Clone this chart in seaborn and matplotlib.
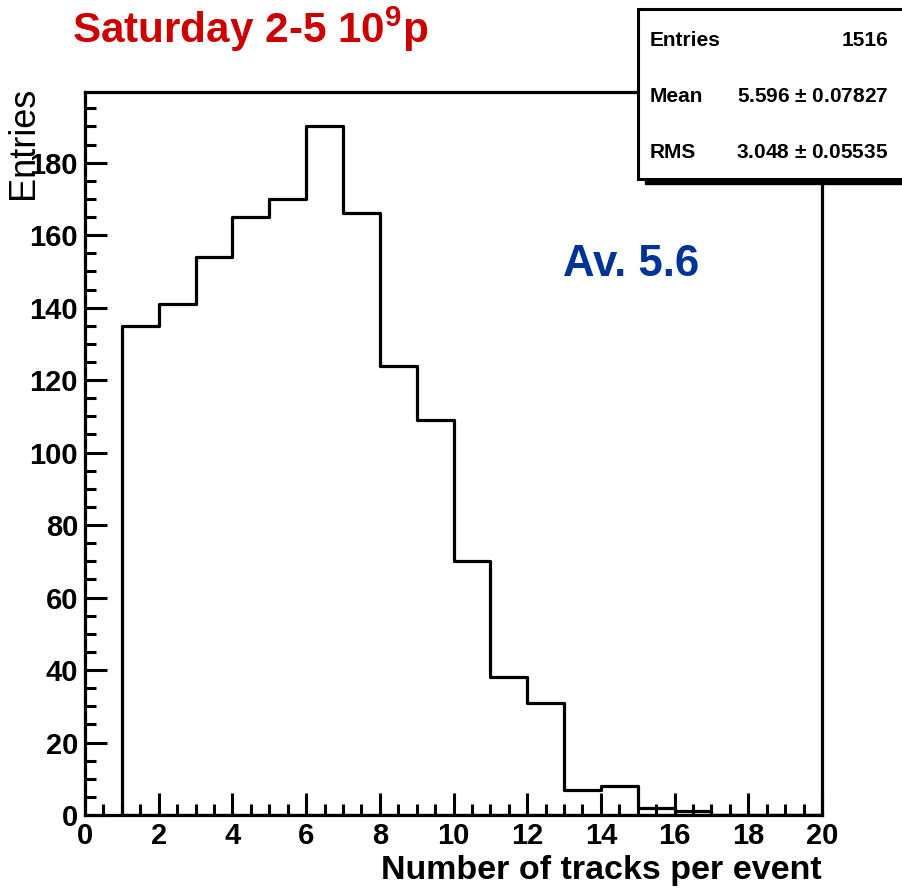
import numpy as np
import matplotlib
matplotlib.use("Agg")
import matplotlib.pyplot as plt
from matplotlib.patches import Rectangle
import seaborn as sns

# Track multiplicity histogram: unit-width bins from 1 to 20
bin_edges = list(range(1, 21))
counts = [135, 141, 154, 165, 170, 190, 166, 124, 109, 70,
          38, 31, 7, 8, 2, 1, 0, 0, 0]

title_text = "Saturday 2-5 10$^{9}$p"
note_text = "Av. 5.6"
x_label = "Number of tracks per event"
y_label = "Entries"
stats_names = ["Entries", "Mean", "RMS"]
stats_values = ["1516", "5.596 $\\pm$ 0.07827", "3.048 $\\pm$ 0.05535"]
x_ticks = list(range(0, 21, 2))
y_ticks = list(range(0, 181, 20))

sns.set_theme(style="white")
plt.rcParams["font.family"] = ["Liberation Sans", "DejaVu Sans"]
plt.rcParams["mathtext.fontset"] = "custom"
plt.rcParams["mathtext.rm"] = "Liberation Sans:bold"
plt.rcParams["mathtext.it"] = "Liberation Sans:bold"
plt.rcParams["mathtext.bf"] = "Liberation Sans:bold"
for key in ["text.color", "axes.labelcolor", "xtick.color", "ytick.color",
            "axes.edgecolor"]:
    plt.rcParams[key] = "black"

W, H = 902, 889
fig = plt.figure(figsize=(W / 100, H / 100), dpi=100)
ax = fig.add_axes([85 / W, 1 - 815 / H, (822 - 85) / W, (815 - 92) / H])

centers = [e + 0.5 for e in bin_edges[:-1]]
sns.histplot(x=centers, weights=counts, bins=bin_edges, element="step",
             fill=True, color="black", linewidth=2.3, ax=ax)
# Outline only, as in a classic step histogram
for coll in ax.collections:
    coll.set_facecolor("none")
    coll.set_edgecolor("black")
    coll.set_alpha(1.0)
    coll.set_linewidth(2.3)

ax.set_xlim(0, 20)
ax.set_ylim(0, 199.5)
ax.set_xticks(x_ticks)
ax.set_yticks(y_ticks)
ax.set_xticks(np.arange(0, 20.01, 0.5), minor=True)
ax.set_yticks(np.arange(0, 199.5, 5), minor=True)
ax.tick_params(which="major", direction="in", length=16, width=2.2,
               labelsize=21, pad=5, color="black", labelcolor="black")
ax.tick_params(which="minor", direction="in", length=8, width=2.2,
               color="black")
ax.tick_params(axis="x", which="both", bottom=True, top=False)
ax.tick_params(axis="y", which="both", left=True, right=False)
for lbl in ax.get_xticklabels() + ax.get_yticklabels():
    lbl.set_fontweight("bold")
for sp in ax.spines.values():
    sp.set_visible(True)
    sp.set_color("black")
    sp.set_linewidth(2.3)

ax.set_xlabel("")
ax.set_ylabel("")

# Axis titles placed in figure pixel coordinates
fig.text(822 / W, 1 - 870 / H, x_label, ha="right", va="center",
         fontsize=24.5, fontweight="bold", color="black")
fig.text(23 / W, 1 - 87 / H, y_label, ha="center", va="top",
         rotation=90, fontsize=26, color="black")

# Title and annotation
fig.text(72 / W, 1 - 29 / H, title_text, ha="left", va="center",
         fontsize=30.4, fontweight="bold", color="#CC0000")
fig.text(563 / W, 1 - 264 / H, note_text, ha="left", va="center",
         fontsize=31.5, fontweight="bold", color="#003399")

# Statistics box with drop shadow
bx0, by0, bx1, by1 = 638, 9, 905, 179
shadow = Rectangle(((bx0 + 7) / W, 1 - (by1 + 5) / H),
                   (bx1 - bx0) / W, (by1 - by0) / H,
                   transform=fig.transFigure, facecolor="black",
                   edgecolor="black", zorder=5)
box = Rectangle((bx0 / W, 1 - by1 / H), (bx1 - bx0) / W, (by1 - by0) / H,
                transform=fig.transFigure, facecolor="white",
                edgecolor="black", linewidth=2.2, zorder=6)
fig.add_artist(shadow)
fig.add_artist(box)
for i, (name, val) in enumerate(zip(stats_names, stats_values)):
    yy = 1 - (41 + 56 * i) / H
    fig.text(650 / W, yy, name, ha="left", va="center", fontsize=15,
             fontweight="bold", color="black", zorder=7)
    fig.text(888 / W, yy, val, ha="right", va="center", fontsize=15,
             fontweight="bold", color="black", zorder=7)

fig.savefig("out.png", dpi=100, facecolor="white")
